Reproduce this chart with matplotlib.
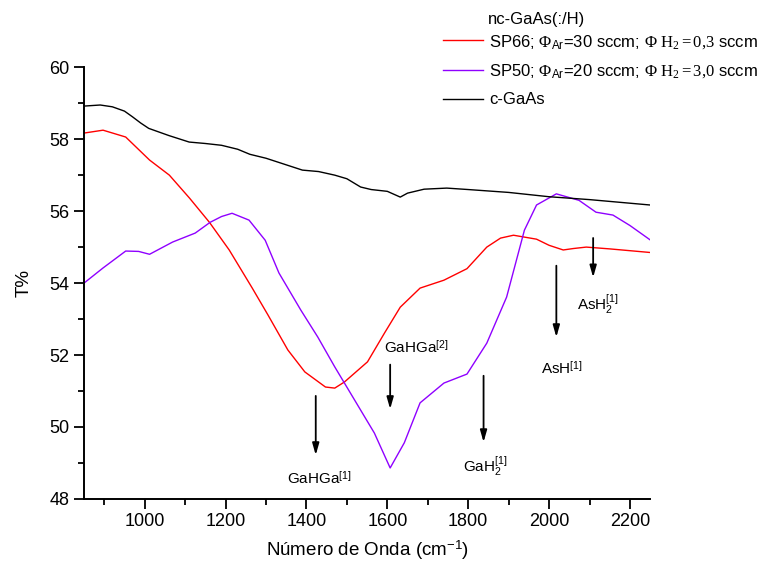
import numpy as np
import matplotlib
matplotlib.use('Agg')
import matplotlib.pyplot as plt
from matplotlib.ticker import MultipleLocator

plt.rcParams['font.family'] = ['Liberation Sans', 'DejaVu Sans']
plt.rcParams['mathtext.fontset'] = 'custom'
plt.rcParams['mathtext.rm'] = 'Liberation Serif'
plt.rcParams['mathtext.it'] = 'Liberation Serif:italic'
plt.rcParams['mathtext.sf'] = 'Liberation Sans'

# c-GaAs (black)
x_cgaas = [850, 890, 920, 950, 970, 990, 1010, 1020, 1060, 1110, 1150, 1190, 1230, 1260,
           1300, 1330, 1360, 1390, 1430, 1470, 1500, 1534, 1560, 1600, 1632, 1650,
           1691, 1747, 1800, 1900, 2000, 2100, 2200, 2250]
y_cgaas = [58.92, 58.95, 58.9, 58.78, 58.62, 58.45, 58.3, 58.26, 58.1, 57.92, 57.88,
           57.83, 57.72, 57.58, 57.47, 57.36, 57.25, 57.14, 57.1, 57.0, 56.9, 56.67,
           56.6, 56.55, 56.39, 56.5, 56.61, 56.64, 56.6, 56.52, 56.4, 56.32, 56.22, 56.17]

# SP66 (red)
x_sp66 = [850, 897, 953, 1012, 1061, 1111, 1160, 1209, 1266, 1305, 1354, 1396, 1447,
          1470, 1494, 1551, 1593, 1632, 1681, 1740, 1797, 1846, 1880, 1912, 1969,
          2000, 2035, 2060, 2092, 2150, 2250]
y_sp66 = [58.17, 58.25, 58.06, 57.42, 57.0, 56.36, 55.69, 54.92, 53.86, 53.11, 52.14,
          51.53, 51.11, 51.08, 51.25, 51.81, 52.61, 53.33, 53.86, 54.08, 54.4, 55.0,
          55.25, 55.33, 55.22, 55.05, 54.92, 54.96, 55.0, 54.95, 54.85]

# SP50 (purple)
x_sp50 = [850, 897, 953, 985, 1012, 1069, 1125, 1162, 1190, 1216, 1258, 1298, 1332,
          1386, 1428, 1470, 1519, 1568, 1607, 1642, 1681, 1740, 1797, 1846, 1895,
          1939, 1969, 2018, 2074, 2116, 2158, 2200, 2250]
y_sp50 = [54.0, 54.42, 54.89, 54.88, 54.8, 55.14, 55.39, 55.69, 55.85, 55.94, 55.75,
          55.19, 54.28, 53.25, 52.5, 51.67, 50.75, 49.83, 48.86, 49.56, 50.67, 51.22,
          51.47, 52.33, 53.61, 55.47, 56.17, 56.48, 56.3, 55.97, 55.89, 55.6, 55.2]

# band assignments: label, arrow x, arrow top, arrow bottom, label x, label y
band_labels = ['GaHGa$^{\\mathsf{[1]}}$', 'GaHGa$^{\\mathsf{[2]}}$',
               'GaH$_{\\mathsf{2}}^{\\mathsf{[1]}}$', 'AsH$^{\\mathsf{[1]}}$',
               'AsH$_{\\mathsf{2}}^{\\mathsf{[1]}}$']
band_x = [1423, 1607, 1838, 2018, 2109]
band_top = [50.94, 51.81, 51.5, 54.56, 55.33]
band_bottom = [49.14, 50.42, 49.5, 52.42, 54.08]
label_x = [1432, 1672, 1842, 2032, 2122]
label_y = [48.55, 52.2, 48.9, 51.6, 53.4]

fig = plt.figure(figsize=(7.64, 5.65), dpi=100)
ax = fig.add_axes([0.110, 0.117, 0.741, 0.764])

l1, = ax.plot(x_sp66, y_sp66, color='#ff0000', lw=1)
l2, = ax.plot(x_sp50, y_sp50, color='#8f00ff', lw=1)
l3, = ax.plot(x_cgaas, y_cgaas, color='black', lw=1)

for lab, bx, bt, bb, lx, ly in zip(band_labels, band_x, band_top, band_bottom, label_x, label_y):
    ax.annotate('', xy=(bx, bb), xytext=(bx, bt),
                arrowprops=dict(arrowstyle='-|>,head_length=0.7,head_width=0.2',
                                color='black', lw=1.3))
    ax.text(lx, ly, lab, ha='center', va='center', fontsize=11)

ax.set_xlim(850, 2250)
ax.set_ylim(48, 60)
ax.xaxis.set_major_locator(MultipleLocator(200))
ax.xaxis.set_minor_locator(MultipleLocator(100))
ax.yaxis.set_major_locator(MultipleLocator(2))
ax.yaxis.set_minor_locator(MultipleLocator(1))
ax.spines['top'].set_visible(False)
ax.spines['right'].set_visible(False)
ax.spines['left'].set_linewidth(1.4)
ax.spines['bottom'].set_linewidth(1.4)
ax.tick_params(which='major', direction='out', length=7, width=1.3, labelsize=13)
ax.tick_params(which='minor', direction='out', length=4, width=1.3)

ax.set_xlabel('Número de Onda (cm$^{\\mathsf{-1}}$)', fontsize=13.5, labelpad=6)
ax.set_ylabel('T%', fontsize=13.5, labelpad=12)

fig.text(0.639, 0.966, 'nc-GaAs(:/H)', fontsize=12, va='center', ha='left')
fig.legend([l1, l2, l3],
           ['SP66; $\\Phi_{\\mathsf{Ar}}$=30 sccm; $\\Phi\\ \\mathrm{H}_2 = 0{,}3$ sccm',
            'SP50; $\\Phi_{\\mathsf{Ar}}$=20 sccm; $\\Phi\\ \\mathrm{H}_2 = 3{,}0$ sccm',
            'c-GaAs'],
           loc='upper left', bbox_to_anchor=(0.580, 0.942), frameon=False,
           fontsize=12, handlelength=2.4, handletextpad=0.35, labelspacing=0.72,
           borderpad=0, borderaxespad=0)

fig.savefig('out.png', dpi=100)
